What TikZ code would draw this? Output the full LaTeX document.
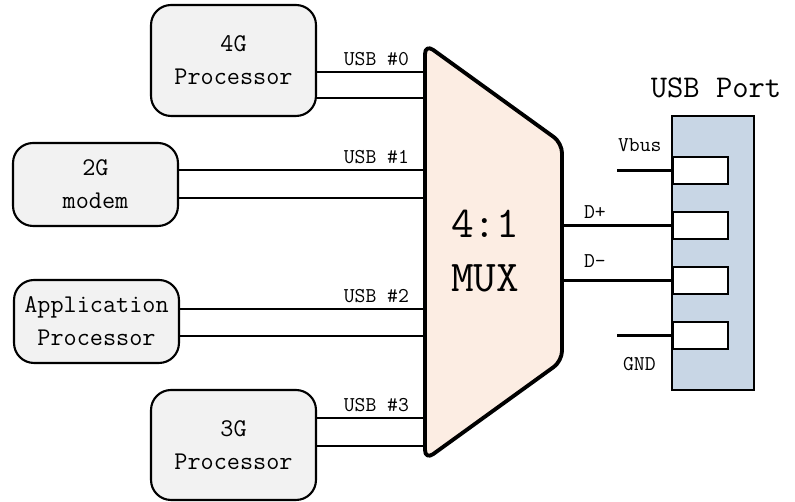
\documentclass[tikz,border=0pt]{standalone}
\usepackage{xcolor}
\usepackage{tikz}
\usetikzlibrary{positioning, calc}

\definecolor{boxgray}{HTML}{F2F2F2}
\definecolor{muxpeach}{HTML}{FCEDE3}
\definecolor{portblue}{HTML}{C8D6E5}

\begin{document}
\begin{tikzpicture}[
    x=0.02cm, y=-0.02cm,
    cpu/.style={draw, line width=1.2pt, rectangle, rounded corners=0.4cm, fill=boxgray, minimum width=3.3cm, inner sep=3pt, align=center, font=\fontsize{14.5}{18.7}\selectfont\ttfamily},
    wire/.style={line width=1.2pt},
    lbl/.style={inner sep=0pt, font=\fontsize{12}{14}\selectfont\ttfamily},
    usbport/.style={draw, line width=1.4pt, rectangle, fill=portblue, minimum width=1.64cm, minimum height=5.48cm},
    pin/.style={draw, line width=1pt, rectangle, fill=white, minimum width=1.1cm, minimum height=0.54cm, anchor=west}
]
    \useasboundingbox (0,0) rectangle (795,502);

    % Processors
    \node[cpu, minimum height=2.22cm] (p4g) at (233.5,60.5) {4G\\Processor};
    \node[cpu, minimum height=1.66cm] (m2g) at (95.5,184.5) {2G\\modem};
    \node[cpu, minimum height=1.66cm] (ap) at (96.5,321.5) {Application\\Processor};
    \node[cpu, minimum height=2.2cm] (p3g) at (233.5,445) {3G\\Processor};

    % Multiplexer
    \draw[line width=2.2pt, fill=muxpeach, rounded corners=0.2cm, line join=round]
        (425,44) -- (562,143) -- (562,361) -- (425,460) -- cycle;
    \node[align=center, font=\fontsize{25}{30.6}\selectfont\ttfamily] (mux) at (485,251) {4:1\\MUX};

    % MUX inputs and output
    \coordinate (u0a) at (425,72);
    \coordinate (u0b) at (425,98);
    \coordinate (u1a) at (425,170);
    \coordinate (u1b) at (425,198);
    \coordinate (u2a) at (425,309);
    \coordinate (u2b) at (425,336);
    \coordinate (u3a) at (425,418);
    \coordinate (u3b) at (425,446);
    \coordinate (muxout) at (562,251);
    \coordinate (stub) at (617,251);

    % USB connector
    \node[usbport] (port) at (713,253) {};
    \node[lbl, font=\fontsize{18}{20}\selectfont\ttfamily] (portname) at (716,88) {USB Port};
    \node[pin] (pin1) at (672,170.5) {};
    \node[pin] (pin2) at (672,225.5) {};
    \node[pin] (pin3) at (672,280.5) {};
    \node[pin] (pin4) at (672,335.5) {};

    % Connections to MUX
    \draw[wire] (u0a -| p4g.east) -- (u0a) node[lbl, above left=0.11cm and 0.3cm] {USB \#0};
    \draw[wire] (u0b -| p4g.east) -- (u0b);
    \draw[wire] (u1a -| m2g.east) -- (u1a) node[lbl, above left=0.11cm and 0.3cm] {USB \#1};
    \draw[wire] (u1b -| m2g.east) -- (u1b);
    \draw[wire] (u2a -| ap.east) -- (u2a) node[lbl, above left=0.11cm and 0.3cm] {USB \#2};
    \draw[wire] (u2b -| ap.east) -- (u2b);
    \draw[wire] (u3a -| p3g.east) -- (u3a) node[lbl, above left=0.11cm and 0.3cm] {USB \#3};
    \draw[wire] (u3b -| p3g.east) -- (u3b);

    % Port pins
    \draw[wire] (pin1.west -| stub) -- (pin1.west) node[lbl, pos=0, above right=0.36cm and 0cm] {Vbus};
    \draw[wire] (pin2.west -| muxout) -- (pin2.west) node[lbl, pos=0, above right=0.11cm and 0.42cm] {D+};
    \draw[wire] (pin3.west -| muxout) -- (pin3.west) node[lbl, pos=0, above right=0.24cm and 0.42cm] {D-};
    \draw[wire] (pin4.west -| stub) -- (pin4.west) node[lbl, pos=0, below right=0.42cm and 0.1cm] {GND};

\end{tikzpicture}
\end{document}
